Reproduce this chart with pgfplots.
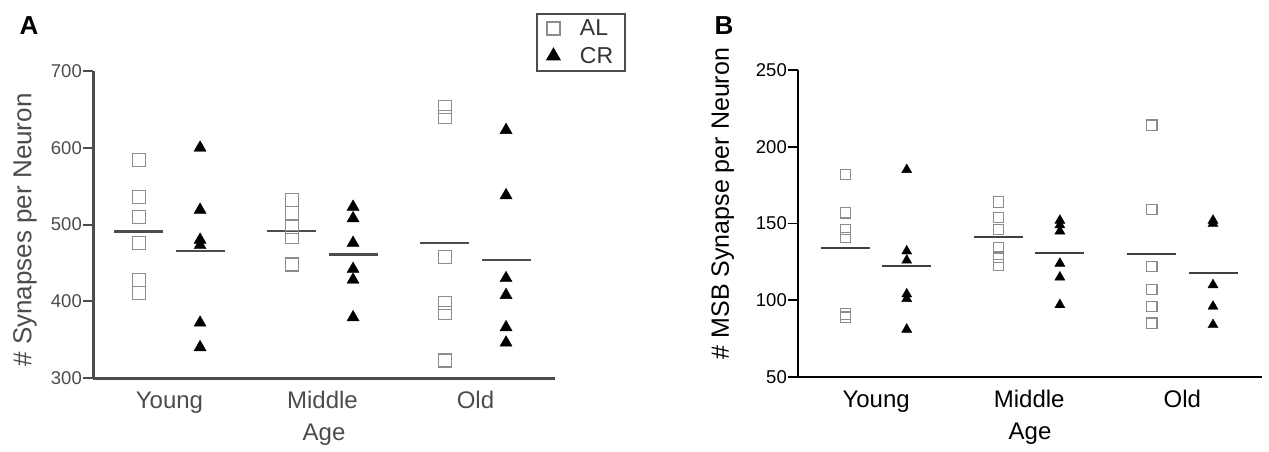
\documentclass[border=0pt]{standalone}
\usepackage{fontspec}
\setmainfont{Liberation Sans}
\usepackage{pgfplots}
\pgfplotsset{compat=1.18}
\definecolor{algray}{gray}{0.55}
\definecolor{agray}{gray}{0.30}
\begin{document}
\begin{tikzpicture}
\path[use as bounding box] (0pt,0pt) rectangle (1269pt,451pt);
\pgfplotsset{
  common/.style={
    scale only axis, clip=false,
    axis x line=bottom, axis y line=left,
    axis line style={-},
    tick align=outside, major tick length=10pt,
    xtick={1,2,3}, xticklabels={Young,Middle,Old},
    x tick style={draw=none},
    /pgf/number format/assume math mode=true,
    yticklabel style={font=\fontsize{18.5}{20}\selectfont, inner sep=1pt},
    xticklabel style={font=\fontsize{24}{26}\selectfont},
    xlabel={Age},
    xlabel style={font=\fontsize{24}{26}\selectfont, at={(axis description cs:0.5,-0.186)}, anchor=center},
    ylabel style={font=\fontsize{26}{28}\selectfont, anchor=center},
  },
  almark/.style={only marks, mark=square, mark size=6.5pt, mark options={draw=algray, fill=white, line width=1.4pt}},
  crmark/.style={only marks, mark=triangle*, mark size=7pt, mark options={draw=black, fill=black}},
}
% Panel A
\begin{axis}[common,
  at={(93pt,73pt)}, anchor=south west, width=462pt, height=307pt,
  xmin=0.5, xmax=3.52, ymin=300, ymax=700,
  ytick={300,400,500,600,700},
  axis line style={agray, line width=3pt},
  ytick style={agray, line width=2pt},
  ticklabel style={text=agray},
  ylabel={\# Synapses per Neuron},
  ylabel style={at={(axis description cs:-0.147,0.482)}, text=agray},
  xlabel style={text=agray},
  legend style={at={(axis description cs:0.959,1.189)}, anchor=north west,
    draw=agray, line width=1.8pt, font=\fontsize{23}{26}\selectfont,
    inner xsep=10pt, inner ysep=4pt, row sep=6pt, text=black!80,
    /tikz/every odd column/.append style={column sep=18pt}},
  legend cell align=left,
]
\addplot[almark] coordinates {(0.8,584) (0.8,536) (0.8,510) (0.8,476) (0.8,428) (0.8,411)
  (1.8,532) (1.8,515) (1.8,497) (1.8,484) (1.8,448)
  (2.8,653) (2.8,640) (2.8,458) (2.8,398) (2.8,385) (2.8,323)};
\addlegendentry{AL}
\addplot[crmark] coordinates {(1.2,600) (1.2,519) (1.2,480) (1.2,473) (1.2,372) (1.2,340)
  (2.2,523) (2.2,508) (2.2,476) (2.2,442) (2.2,428) (2.2,379)
  (3.2,623) (3.2,538) (3.2,430) (3.2,408) (3.2,366) (3.2,346)};
\addlegendentry{CR}
\addplot[forget plot, agray, line width=2.2pt, unbounded coords=jump] coordinates {
  (0.64,491) (0.96,491) (nan,nan)
  (1.04,465) (1.36,465) (nan,nan)
  (1.64,492) (1.96,492) (nan,nan)
  (2.04,461) (2.36,461) (nan,nan)
  (2.64,476) (2.96,476) (nan,nan)
  (3.04,454) (3.36,454)};
\end{axis}
% Panel B
\begin{axis}[common,
  at={(798pt,74pt)}, anchor=south west, width=464pt, height=307pt,
  xmin=0.49, xmax=3.52, ymin=50, ymax=250,
  ytick={50,100,150,200,250},
  axis line style={black, line width=2.2pt},
  ytick style={black, line width=1.8pt},
  ylabel={\# MSB Synapse per Neuron},
  ylabel style={font=\fontsize{25}{27}\selectfont, at={(axis description cs:-0.162,0.565)}},
]
\addplot[almark, mark size=5.2pt, mark options={draw=algray, fill=white, line width=1.2pt}] coordinates {(0.8,182) (0.8,157) (0.8,146) (0.8,141) (0.8,91) (0.8,89)
  (1.8,164) (1.8,154) (1.8,146) (1.8,134) (1.8,128) (1.8,123)
  (2.8,214) (2.8,159) (2.8,122) (2.8,107) (2.8,96) (2.8,85)};
\addplot[crmark, mark size=5.8pt] coordinates {(1.2,185) (1.2,132) (1.2,126) (1.2,104) (1.2,101) (1.2,81)
  (2.2,152) (2.2,149) (2.2,145) (2.2,124) (2.2,115) (2.2,97)
  (3.2,152) (3.2,150) (3.2,110) (3.2,96) (3.2,84)};
\addplot[black!75, line width=2pt, unbounded coords=jump] coordinates {
  (0.64,134) (0.96,134) (nan,nan)
  (1.04,122) (1.36,122) (nan,nan)
  (1.64,141) (1.96,141) (nan,nan)
  (2.04,131) (2.36,131) (nan,nan)
  (2.64,130) (2.96,130) (nan,nan)
  (3.04,118) (3.36,118)};
\end{axis}
\node[font=\bfseries\fontsize{26}{26}\selectfont, text=black] at (29pt,425pt) {A};
\node[font=\bfseries\fontsize{26}{26}\selectfont, text=black] at (724pt,425pt) {B};
\end{tikzpicture}
\end{document}
